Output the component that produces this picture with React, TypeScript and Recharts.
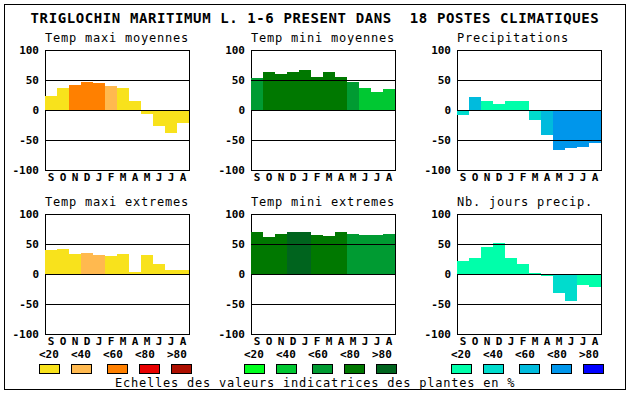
import React from 'react';
import { BarChart, Bar, XAxis, YAxis, Cell, ReferenceLine, ReferenceArea } from 'recharts';

// ---- data ----
const months = ['S', 'O', 'N', 'D', 'J', 'F', 'M', 'A', 'M', 'J', 'J', 'A'];
const yTicks = [-100, -50, 0, 50, 100];
const gridValues = [50, 0, -50];

const scaleLabels = ['<20', '<40', '<60', '<80', '>80'];
const warmScale = ['#f8e21c', '#ffb94f', '#ff8000', '#e80000', '#ad0f00'];
const greenScale = ['#00ff1e', '#00c832', '#009b32', '#007800', '#00641e'];
const blueScale = ['#00ffaa', '#00dccd', '#00bbdd', '#0096eb', '#0000ff'];

const mainTitle = 'TRIGLOCHIN MARITIMUM L. 1-6 PRESENT DANS  18 POSTES CLIMATIQUES';
const caption = 'Echelles des valeurs indicatrices des plantes en %';

const tempMaxiMoy = [23, 37, 42, 47, 45, 40, 37, 15, -6, -26, -38, -21];
const tempMaxiMoyClass = [0, 0, 2, 2, 2, 1, 0, 0, 0, 0, 0, 0];

const tempMiniMoy = [54, 63, 60, 63, 67, 55, 63, 55, 47, 37, 30, 35];
const tempMiniMoyClass = [2, 3, 3, 3, 3, 3, 3, 3, 2, 1, 1, 1];

const precip = [-8, 22, 15, 10, 15, 15, -17, -42, -67, -63, -62, -55];
const precipClass = [1, 2, 0, 0, 0, 0, 1, 2, 3, 3, 3, 3];

const tempMaxiExt = [40, 42, 34, 35, 32, 30, 34, 4, 32, 17, 7, 7];
const tempMaxiExtClass = [0, 0, 0, 1, 1, 0, 0, 0, 0, 0, 0, 0];

const tempMiniExt = [70, 62, 67, 70, 70, 65, 64, 70, 67, 65, 65, 67];
const tempMiniExtClass = [3, 3, 3, 4, 4, 3, 3, 3, 2, 2, 2, 2];

const joursPrecip = [22, 27, 45, 52, 27, 17, 2, -4, -31, -45, -18, -21];
const joursPrecipClass = [0, 0, 0, 0, 0, 0, 0, 0, 1, 1, 0, 0];

// ---- layout ----
const FONT = '"DejaVu Sans Mono", monospace';
const colLeft = [45, 251, 457];
const rowTop = [50, 214];
const PLOT_W = 144;
const PLOT_H = 120;
const legendGroupX = [39, 244, 451];
const labelOffsets = [0, 32, 64, 96, 128];
const boxOffsets = [0, 32, 68, 100, 132];

const panels = [
  { title: 'Temp maxi moyennes', values: tempMaxiMoy, classes: tempMaxiMoyClass, palette: warmScale, col: 0, row: 0 },
  { title: 'Temp mini moyennes', values: tempMiniMoy, classes: tempMiniMoyClass, palette: greenScale, col: 1, row: 0 },
  { title: 'Precipitations', values: precip, classes: precipClass, palette: blueScale, col: 2, row: 0 },
  { title: 'Temp maxi extremes', values: tempMaxiExt, classes: tempMaxiExtClass, palette: warmScale, col: 0, row: 1 },
  { title: 'Temp mini extremes', values: tempMiniExt, classes: tempMiniExtClass, palette: greenScale, col: 1, row: 1 },
  { title: 'Nb. jours precip.', values: joursPrecip, classes: joursPrecipClass, palette: blueScale, col: 2, row: 1 },
];

const legendPalettes = [warmScale, greenScale, blueScale];

const tickStyle = { fill: '#000', fontSize: 11, fontWeight: 'bold', fontFamily: FONT };

function Panel({ values, classes, palette, left, top }: any) {
  const data = values.map((v: number, i: number) => ({ i, v, c: classes[i] }));
  const Y_W = 45;
  const chartW = Y_W + PLOT_W + 17;
  const chartH = 10 + PLOT_H + 20;
  return (
    <div style={{ position: 'absolute', left: left - Y_W, top: top - 10 }}>
      <BarChart
        width={chartW}
        height={chartH}
        data={data}
        margin={{ top: 10, right: 17, bottom: 0, left: 0 }}
        barCategoryGap={0}
        barGap={0}
      >
        <XAxis
          dataKey="i"
          type="category"
          interval={0}
          tickFormatter={(v: number) => months[v]}
          axisLine={false}
          tickLine={false}
          tickSize={0}
          tickMargin={3}
          height={20}
          tick={tickStyle}
        />
        <YAxis
          type="number"
          domain={[-100, 100]}
          ticks={yTicks}
          interval={0}
          width={Y_W}
          axisLine={false}
          tickLine={false}
          tickSize={0}
          tickMargin={6}
          tick={tickStyle}
        />
        <Bar dataKey="v" isAnimationActive={false}>
          {data.map((d: any, i: number) => (
            <Cell key={i} fill={palette[d.c]} />
          ))}
        </Bar>
        {gridValues.map((g) => (
          <ReferenceLine key={g} y={g} stroke="#000" strokeWidth={1} />
        ))}
        <ReferenceArea y1={-100} y2={100} fill="none" fillOpacity={0} stroke="#000" strokeWidth={1} strokeOpacity={1} />
      </BarChart>
    </div>
  );
}

export default function App() {
  return (
    <div style={{ position: 'absolute', left: 0, top: 0, width: 630, height: 394, background: '#fff', overflow: 'hidden' }}>
      <style>{`.recharts-surface{shape-rendering:crispEdges}`}</style>
      <svg width={630} height={394} style={{ position: 'absolute', left: 0, top: 0, shapeRendering: 'crispEdges' }}>
        <rect x={4.5} y={4.5} width={621} height={385} fill="none" stroke="#000" strokeWidth={1} />
        <text
          x={315}
          y={23}
          textAnchor="middle"
          fontFamily={FONT}
          fontSize={14}
          fontWeight="bold"
          letterSpacing={0.6}
          fill="#000"
          style={{ whiteSpace: 'pre' }}
        >
          {mainTitle}
        </text>
        {panels.map((p, k) => (
          <text
            key={k}
            x={colLeft[p.col]}
            y={rowTop[p.row] - 8}
            fontFamily={FONT}
            fontSize={12}
            letterSpacing={0.78}
            fill="#000"
          >
            {p.title}
          </text>
        ))}
        {legendPalettes.map((pal, g) => (
          <g key={g}>
            {scaleLabels.map((lab, j) => (
              <text
                key={'t' + j}
                x={legendGroupX[g] + labelOffsets[j]}
                y={358}
                fontFamily={FONT}
                fontSize={11}
                fontWeight="bold"
                fill="#000"
              >
                {lab}
              </text>
            ))}
            {pal.map((col, j) => (
              <rect
                key={'r' + j}
                x={legendGroupX[g] + boxOffsets[j] + 0.5}
                y={364.5}
                width={20}
                height={9}
                fill={col}
                stroke="#000"
                strokeWidth={1}
              />
            ))}
          </g>
        ))}
        <text x={115} y={387} fontFamily={FONT} fontSize={12} letterSpacing={0.78} fill="#000" style={{ whiteSpace: 'pre' }}>
          {caption}
        </text>
      </svg>
      {panels.map((p, k) => (
        <Panel
          key={k}
          values={p.values}
          classes={p.classes}
          palette={p.palette}
          left={colLeft[p.col]}
          top={rowTop[p.row]}
        />
      ))}
    </div>
  );
}
